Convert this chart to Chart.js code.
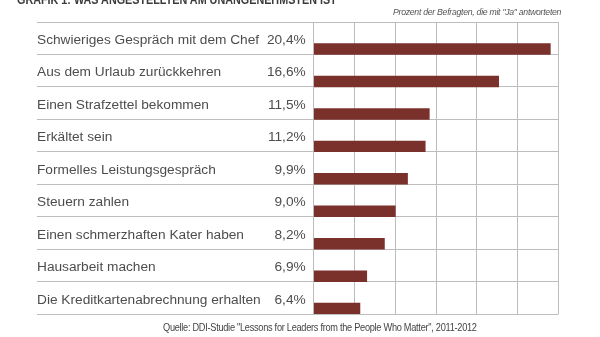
<!DOCTYPE html>
<html>
<head>
<meta charset="utf-8">
<script src="https://cdn.jsdelivr.net/npm/chart.js@4.4.1/dist/chart.umd.min.js"></script>
<style>
  html, body { margin: 0; padding: 0; background: #fff; }
  #wrap { position: relative; width: 600px; height: 337px; overflow: hidden; }
  #chart { position: absolute; left: 0; top: 0; }
  .txt { position: absolute; white-space: nowrap; font-family: "Liberation Sans Narrow", "Liberation Sans", Arial, sans-serif; transform-origin: 0 0; }
  #title { left: 17px; top: -7px; font-size: 13px; line-height: 13px; font-weight: bold; color: #3c3c3c; transform: scaleX(0.83); }
  #sub { left: 393px; top: 6px; font-size: 9px; line-height: 12px; font-style: italic; color: #555; letter-spacing: -0.3px; transform: scaleX(0.97); }
  #src { left: 163px; top: 322px; font-size: 10px; line-height: 12px; color: #444; letter-spacing: -0.3px; transform: scaleX(0.92); }
</style>
</head>
<body>
<div id="wrap">
  <canvas id="chart" width="600" height="337"></canvas>
  <div class="txt" id="title">GRAFIK 1: WAS ANGESTELLTEN AM UNANGENEHMSTEN IST</div>
  <div class="txt" id="sub">Prozent der Befragten, die mit "Ja" antworteten</div>
  <div class="txt" id="src">Quelle: DDI-Studie "Lessons for Leaders from the People Who Matter", 2011-2012</div>
</div>
<script>
const categories = [
  "Schwieriges Gespräch mit dem Chef",
  "Aus dem Urlaub zurückkehren",
  "Einen Strafzettel bekommen",
  "Erkältet sein",
  "Formelles Leistungsgespräch",
  "Steuern zahlen",
  "Einen schmerzhaften Kater haben",
  "Hausarbeit machen",
  "Die Kreditkartenabrechnung erhalten"
];
const values = [20.4, 16.6, 11.5, 11.2, 9.9, 9.0, 8.2, 6.9, 6.4];
const valueLabels = values.map(v => v.toFixed(1).replace(".", ",") + "%");
const xTicks = [3, 6, 9, 12, 15, 18, 21];

const gridColor = "#bdbdbd";
const textColor = "#4d4d4d";
const labelFont = { family: "'Liberation Sans', Arial, sans-serif", size: 13.7 };
const NAME_W = 226.7;
const PCT_W = 50;

const ctx = document.getElementById("chart").getContext("2d");
new Chart(ctx, {
  type: "bar",
  data: {
    labels: categories,
    datasets: [
      // two empty slots so the bar sits in the lower third of each row
      { data: [] },
      { data: [] },
      { data: values, backgroundColor: "#7b312b", borderWidth: 0, base: xTicks[0], clip: 0 }
    ]
  },
  options: {
    indexAxis: "y",
    responsive: false,
    animation: false,
    layout: { padding: { left: 37, top: 22, right: 41.5, bottom: 23 } },
    datasets: { bar: { categoryPercentage: 1, barPercentage: 1 } },
    plugins: {
      legend: { display: false },
      tooltip: { enabled: false }
    },
    scales: {
      x: {
        type: "linear",
        position: "top",
        min: xTicks[0],
        max: xTicks[xTicks.length - 1],
        ticks: { display: false, stepSize: 3 },
        grid: { color: gridColor, drawTicks: false },
        border: { display: false },
        afterFit: s => { s.height = 0; }
      },
      y: {
        position: "left",
        weight: 1,
        ticks: { crossAlign: "far", font: labelFont, color: textColor, labelOffset: 2, autoSkip: false },
        grid: { color: gridColor, tickLength: NAME_W, offset: true },
        border: { display: false },
        afterFit: s => { s.width = NAME_W; }
      },
      yPct: {
        type: "category",
        axis: "y",
        position: "left",
        weight: 0,
        labels: valueLabels,
        offset: true,
        ticks: { crossAlign: "near", padding: 8 - PCT_W, font: labelFont, color: textColor, labelOffset: 2, autoSkip: false },
        grid: { color: gridColor, tickLength: PCT_W, offset: true, drawOnChartArea: false },
        border: { display: false },
        afterFit: s => { s.width = PCT_W; }
      }
    }
  }
});
</script>
</body>
</html>
